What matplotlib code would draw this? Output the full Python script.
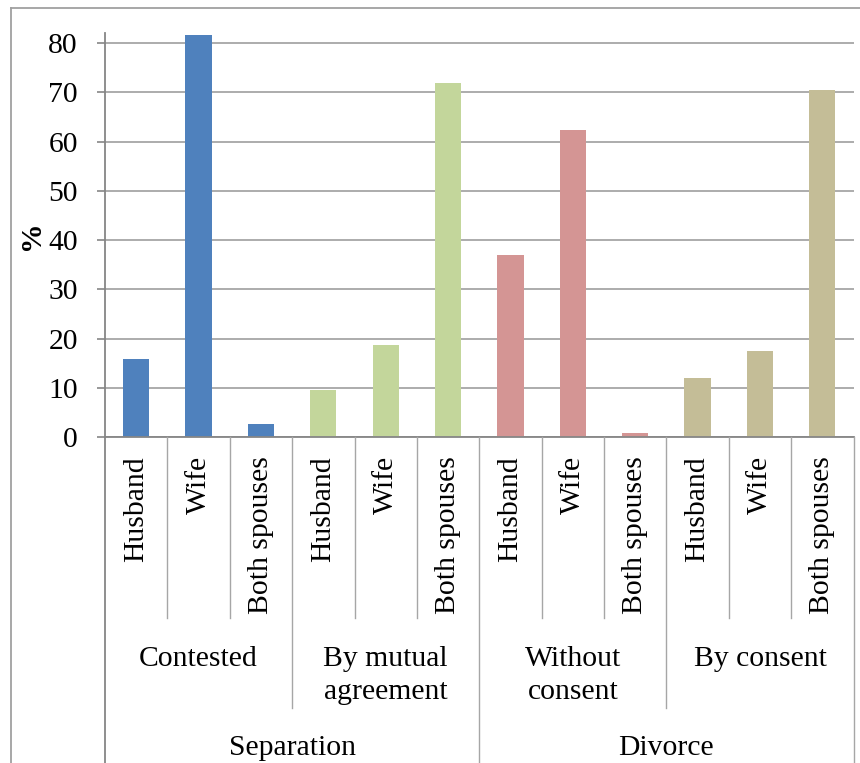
import matplotlib
matplotlib.use("Agg")
import matplotlib.pyplot as plt
from matplotlib.transforms import blended_transform_factory
from matplotlib.lines import Line2D

# ---- data ----
sub_labels = ["Husband", "Wife", "Both spouses"] * 4
mid_labels = ["Contested", "By mutual\nagreement", "Without\nconsent", "By consent"]
top_labels = ["Separation", "Divorce"]
contested = [15.8, 81.7, 2.8]
mutual = [9.5, 18.8, 72.0]
without_consent = [37.0, 62.4, 0.8]
by_consent = [12.1, 17.6, 70.5]
group_colors = ["#4F81BD", "#C3D69B", "#D49594", "#C4BD97"]
y_ticks = [0, 10, 20, 30, 40, 50, 60, 70, 80]

plt.rcParams['font.family'] = ['Liberation Serif', 'DejaVu Serif']
FS = 21.3
W, H = 860, 763
fig = plt.figure(figsize=(W / 100, H / 100), dpi=100)

def fy(py):
    return (H - py) / H

ax = fig.add_axes([105 / W, fy(437.3), (853.5 - 105) / W, (437.3 - 33.3) / H])

groups = [contested, mutual, without_consent, by_consent]
values, colors = [], []
for g, c in zip(groups, group_colors):
    values += g
    colors += [c] * len(g)
x = list(range(len(values)))
ax.bar(x, values, width=0.42, color=colors, zorder=2)

ax.set_xlim(-0.5, len(values) - 0.5)
ax.set_ylim(0, 82)
ax.set_yticks(y_ticks)
ax.set_yticklabels([str(v) for v in y_ticks], fontsize=FS)
ax.set_xticks([])
ax.tick_params(axis='y', length=5.8, width=1.2, color='#868686', pad=13.7)
ax.yaxis.grid(True, color='#A6A6A6', linewidth=1.3, zorder=0)
ax.set_axisbelow(True)
for s in ['top', 'right']:
    ax.spines[s].set_visible(False)
for s in ['left', 'bottom']:
    ax.spines[s].set_color('#868686')
    ax.spines[s].set_linewidth(1.3)
    ax.spines[s].set_zorder(3)

# y label
fig.text(31 / W, fy(235), "%", rotation=90, fontsize=FS, fontweight='bold',
         ha='center', va='center')

tr = blended_transform_factory(ax.transData, fig.transFigure)
sep_col = '#A6A6A6'

def vline(xd, y0, y1, color=sep_col, lw=1.0):
    fig.add_artist(Line2D([xd, xd], [fy(y0), fy(y1)], transform=tr, color=color, lw=lw))

n = len(values)
# axis continuation and separators
vline(-0.5, 437.3, H, color='#868686', lw=1.3)
for i in range(1, n):
    if i % 6 == 0:
        vline(i - 0.5, 437.3, H)
    elif i % 3 == 0:
        vline(i - 0.5, 437.3, 708)
    else:
        vline(i - 0.5, 437.3, 618)
vline(n - 0.5, 437.3, H)

# sub labels
for i, lab in enumerate(sub_labels):
    fig.text(i, fy(456), lab, transform=tr, rotation=90, fontsize=FS,
             ha='center', va='top')

# mid labels
for k, lab in enumerate(mid_labels):
    xc = 3 * k + 1
    for j, line in enumerate(lab.split("\n")):
        fig.text(xc, fy(666.5 + 32.5 * j), line, transform=tr, fontsize=FS,
                 ha='center', va='baseline')

# top labels
for k, lab in enumerate(top_labels):
    xc = 6 * k + 2.5
    fig.text(xc, fy(755), lab, transform=tr, fontsize=FS, ha='center', va='baseline')

# outer chart border (left and top visible)
fig.add_artist(Line2D([11 / W, 11 / W], [fy(7.5), 0], transform=fig.transFigure,
                      color='#A0A0A0', lw=1.3))
fig.add_artist(Line2D([11 / W, 1], [fy(7.5), fy(7.5)], transform=fig.transFigure,
                      color='#A0A0A0', lw=1.3))

fig.savefig("out.png", dpi=100)
